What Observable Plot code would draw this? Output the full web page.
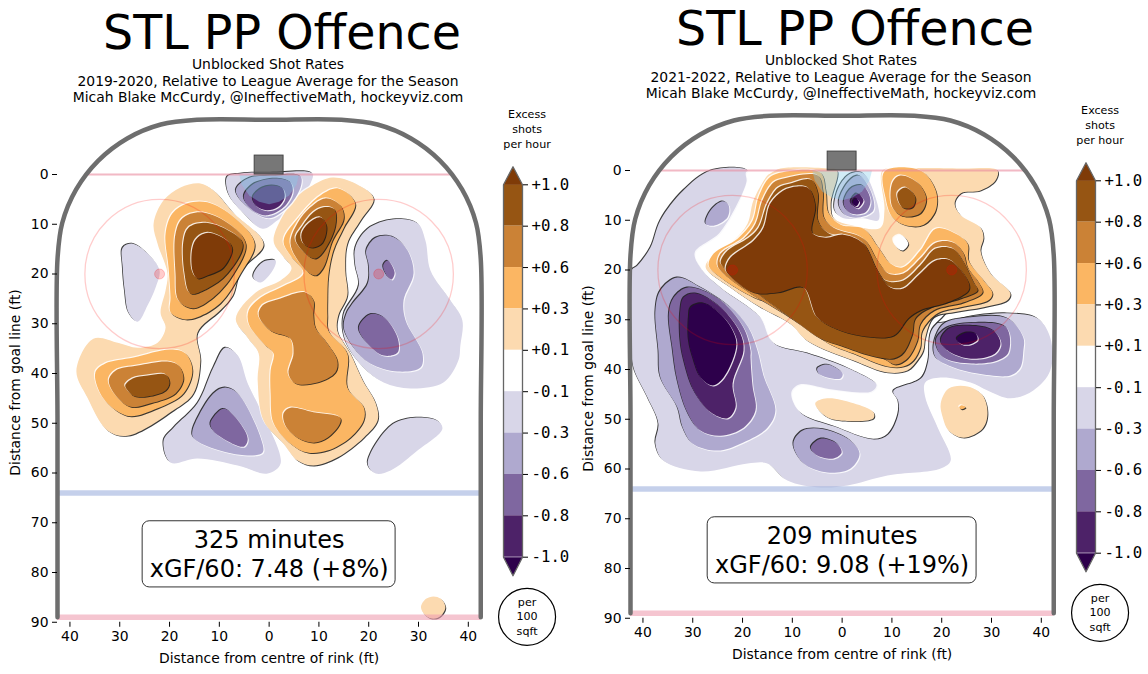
<!DOCTYPE html>
<html><head><meta charset="utf-8">
<script src="https://cdn.jsdelivr.net/npm/d3@7"></script>
<script src="https://cdn.jsdelivr.net/npm/@observablehq/plot@0.6"></script>
<style>
html,body{margin:0;padding:0;background:#fff;overflow:hidden}
#root{position:relative;width:1148px;height:674px;overflow:hidden;font-family:"DejaVu Sans",sans-serif;color:#000}
#root>svg,#root>div{position:absolute}
.t{text-align:center;white-space:nowrap;width:574px}
</style></head><body><div id="root"></div>
<script>
// ---------- levels ----------
const bandNames = ["w","n1","n2","n3","n4","n5","p1","p2","p3","p4","p5"];
const bandColors = ["#ffffff","#d8d6e8","#afa9cf","#7f67a0","#4d2268","#2d004b","#fcdab0","#fbb663","#cb8236","#965513","#7f3b08"];
const cbarLabels = ["+1.0","+0.8","+0.6","+0.3","+0.1","-0.1","-0.3","-0.6","-0.8","-1.0"];
const cbarBands = ["p4","p3","p2","p1","w","n1","n2","n3","n4"];
const xTicks = [-40,-30,-20,-10,0,10,20,30,40];
const yTicks = [0,10,20,30,40,50,60,70,80,90];

// ---------- rink (feet) ----------
const boardX = [-42.5,-42.5,-42.5,-41.55,-38.75,-34.3,-28.5,-21.75,-14.5,0,14.5,21.75,28.5,34.3,38.75,41.55,42.5,42.5,42.5];
const boardY = [89,50,17,9.75,3,-2.8,-7.25,-10.05,-11,-11,-11,-10.05,-7.25,-2.8,3,9.75,17,50,89];
const creaseX = [-6,-5.5,-4,-2,0,2,4,5.5,6];
const creaseY = [0,2,4.2,5.5,6,5.5,4.2,2,0];
const circleX = [-22,22];
const circleY = [20,20];

// ---------- 2019-2020 regions, [x ft, y ft, ...] ----------
const a_n1 = [
 [-29.4,14.7,-27.4,13.9,-24.4,15.9,-22,19.3,-22.8,22.7,-24.4,26.3,-26.4,29.6,-28.2,27.8,-29,23.3,-29.4,18.7],
 [-3.1,19.9,-1.1,17.5,1.3,17.3,0.7,19.3,-1.7,21.7,-3.1,20.9],
 [-8.4,0.4,-5.7,-0.2,0.3,-0.4,8.7,-0.2,8.3,1.8,5.7,5.8,1.7,9.2,-1.3,10.9,-5.1,7.8,-8.2,3.8],
 [17.3,14.7,19.8,10.9,25,9,29.8,9.8,31.4,13.3,32.4,19.3,36.4,25.3,38.8,29.3,38.4,34.4,38,37.4,35,41.8,28.4,43,23,41.8,19,38.8,15.3,33.4,14.9,28.3,18,22.3,17.3,18.3],
 [-21.2,53.5,-19.2,50.9,-14.4,46,-11.2,38.8,-8.8,34.8,-6.3,36.4,-4.3,42,-1.7,47.4,2.3,58.1,-0.3,60.1,-6.3,58.5,-14.4,57.1,-19.8,57.9],
 [19.8,58.1,24.4,50.5,29,48.9,33.8,49.5,34.8,51.1,29.8,55.5,24.4,59.5,21.4,60.1]
];
const a_p1 = [
 [-13.8,1.8,-11.2,3.2,-7.1,7.8,-1.1,14,-5.7,19.3,-7.3,24.3,-9.8,27.3,-14.4,31.8,-13.8,37.4,-15.2,44,-19.2,47.4,-28.4,52.5,-32.4,51.5,-36.5,44.8,-38.7,39.4,-35.3,33,-30.4,33.8,-26.4,34.8,-22.4,33.8,-20.8,30.8,-21.8,27.8,-20.8,23.3,-20.4,19.9,-22.4,13.9,-23.2,9.9,-21.2,5.2,-17.8,2.6],
 [12.7,0.6,17.3,1.8,21,4.8,18.4,9.2,15.7,13.9,15.3,19.3,15.7,24.3,13.9,28.3,13.7,31.4,16.3,36,18.8,41.4,21.4,46,21.8,49.4,19,52.9,13.7,56.9,8.9,58.5,5.7,57.5,2.9,54.1,-1.1,49.5,-2.3,41.4,-2.1,36,-4.3,32.8,-6.7,29,-2.7,23.7,2.3,21.3,4.5,18.9,2.7,16.3,0.9,13.3,4.9,5.2,8.7,2.2],
 [30.5,87,31.5,85.3,33,84.8,34.5,85.3,35.4,87,34.5,88.7,33,89.3,31.5,88.7]
];
const a_n2 = [
 [-6.7,3.2,-4.3,0.8,1.3,0.2,6.3,0.4,6.3,2.6,3.7,6.6,-0.1,8.8,-4.3,6.6],
 [19.5,15.3,21.4,12.7,24.8,12.5,27.8,15.3,29,19.9,27,25.3,27.4,29.3,30.8,36,30.4,38.8,25.8,39.6,20.3,38,17,34.8,15,30.8,15.5,28,16.7,26,19.8,21.9,20,18.3],
 [-15.4,51.5,-11.2,44,-8.8,42.8,-6.3,44,-1.7,52.9,-1.3,55.9,-4.3,56.5,-11.2,55.1,-15.2,52.9]
];
const a_p2 = [
 [-12.4,5.6,-7.1,8.6,-2.9,13.9,-5.7,19.9,-9.8,25.9,-14.4,28.7,-17.2,29.1,-19.8,27.7,-19.8,24.7,-20.2,18.7,-20.8,11.9,-19.4,7.8,-16.4,5.8],
 [-34.9,39.8,-32.9,38,-27.2,36.8,-19.8,35.2,-16.8,36,-15.4,39.4,-17.2,44,-22.4,47,-27.8,48.6,-30.8,47.4,-33.9,44],
 [13.9,2.8,17.3,5.8,15,10.7,12.9,15.3,11.9,20.3,11.7,25.3,11.7,28.3,11.9,31.4,15.7,36,15.7,42.8,19,46.8,19,49.4,16.3,52.9,11.7,55.5,7.7,55.9,4.3,54.1,0.9,50,0.3,44,0.3,39.4,0.9,36,-1.1,34,-4.1,30,-4.1,27.3,-1.7,24.7,2.3,22.7,6.9,19.9,4.3,16.3,2.9,13.3,6.3,8.2,10.3,4.2]
];
const a_n3 = [
 [-5.1,4.6,-3.3,2,1.3,0.8,4.3,1.6,4.7,3.6,2.9,6.6,-0.3,8.2,-2.7,7.6],
 [22.9,18.3,23.8,17.3,25.2,19.7,24.6,21.1,23.4,19.9],
 [18,30.8,20.3,28.1,23,28.7,25.8,32.8,25.8,35.8,23,36.4,19.8,34],
 [-11.8,50,-9.2,47.1,-6.7,48.9,-4.3,53.1,-5.1,54.7,-9.2,53.1,-11.2,51.5]
];
const a_p3 = [
 [-13.8,7.6,-8.4,9.7,-4.7,13.9,-7.1,19.9,-11.2,24.7,-15.4,26.9,-18.2,25.3,-18.8,19.9,-18.8,11.9,-17.4,8.8],
 [-32.2,41.4,-30.8,39.4,-26.4,38.4,-20.4,37.6,-18.2,38.4,-17.2,41,-18.8,44,-23.8,46,-27.8,46.7,-30.8,44.4],
 [11.3,4.8,14.3,6.2,15,8.8,12.7,13.3,10.9,18.7,9.3,20.3,6.9,18.7,4.3,13.9,5.7,9.8,8.3,6.6],
 [7.3,23.7,8.9,25.3,8.9,28.3,9.3,30.8,11.7,34,13.7,37.4,13.3,39.8,9.7,41.8,5.3,42,3.9,40,4.9,36,4.3,33,0.3,31.4,-2.1,28.3,-1.3,26.3,2.3,24.9],
 [2.9,48,4.3,46.9,8.9,47.8,14.3,48.9,14.1,50.3,11.7,52.9,8.9,53.9,5.7,52.9,3.3,50.5]
];
const a_n4 = [[-3.3,4.6,-1.7,2.8,0.7,2.2,2.7,2.8,3.1,4.6,1.7,6.6,-0.5,7.2,-2.5,6.4]];
const a_p4 = [
 [-13.2,9.7,-8.8,10.9,-5.3,13.9,-8.4,19.9,-12.4,22.9,-15.8,23.9,-17,19.9,-17.2,13.3,-16.2,10.7],
 [-28.9,42.4,-27.4,41,-24.4,40.4,-20.8,40.2,-20,41.8,-20.8,43.4,-24.4,44.6,-27.2,44.5,-28.4,43.4],
 [10.9,6.6,13.1,7,13.3,10.3,11.3,14.9,9.3,16.9,7.3,15.9,5.3,12.9,6.7,10.3,8.9,7.6]
];
const a_p5 = [
 [-12.2,11.7,-8.4,13.3,-7.4,14.9,-9.2,18.7,-12.4,20.3,-14.4,20.9,-15.4,19.3,-15.4,14.7,-14.4,12.7],
 [10.3,8.6,11.5,10.3,10.7,13.7,8.7,14.7,6.9,13.9,6.5,11.9,7.9,9.8]
];

// ---------- 2021-2022 regions ----------
const b_n1 = [[-26.4,0,-19,0,-19,2,-20.4,6,-21.4,10.7,-8.4,18.1,7.7,26.1,17.7,30.6,27.2,29.1,33.2,28.7,39.2,29.7,41.8,33.6,41.8,40.2,38.4,44.2,33.8,45.8,29.2,44.2,25.8,42.6,19.8,41.6,16.7,42.6,16.7,45.6,19.2,51.7,21.8,58.3,19.8,59.9,9.1,61.3,1.1,63.3,-4.3,63.7,-11,62.3,-15,58.9,-19,58.9,-28.4,60.5,-35.9,58.3,-37.5,54.9,-36.9,50.9,-39.1,45.6,-41.9,39.6,-42.3,34.2,-42.3,20.1,-41.1,19.1,-38.5,15.5,-36.5,10,-31.9,4]];
const b_w1 = [[-29.4,16.7,-28,20.1,-24.4,23.5,-16.4,29.5,-13.8,34.6,-7,36.6,1.1,39.6,7.1,43.2,6.1,44.6,-1.7,44.2,-8.4,43.2,-10,44.8,-8.4,48.6,-1.7,51.3,6.3,53.9,9.1,52.9,11.1,48.8,11.1,46.2,10.1,44.2,15.7,41.6,17.1,38.2,17.7,32.2,20.7,28.7,23.8,24.1,7.7,6,-8.4,0.4,-19,0.4,-19,2.4,-20.4,6,-24.4,12.7]];
const b_n1top = [[-1.5,8,-0.7,3.4,1.7,0.6,4.3,0.6,6.7,5.4,7.3,10,4.3,9.6,0.3,9.6]];
const b_p1 = [
 [-14.4,0.6,-12.4,-0.4,-3,-0.4,-1,0,-2.3,6.6,-1.7,9.6,2.3,11.1,7.7,11.5,8.5,8,8.1,0,11.7,-0.4,23.8,-0.4,31.2,0,30.8,2,27.8,4,23.8,4.6,22.6,6.6,23.8,9,27.8,11.5,28.4,13.5,27.8,16.1,29.8,20.7,33.8,24.7,33.2,26.1,28.4,27.5,22.4,28.5,18.4,29.5,16.7,33.6,16.3,36.2,15.1,38.2,13.1,40.2,9.1,40.6,2.3,38.2,-7,34.2,-10.4,30.8,-16.4,27.5,-22.4,23.5,-27.4,19.5,-26.4,17.5,-21.8,14.1,-19,10.7,-17.8,6,-15,1],
 [-5.4,46.8,-3,45.8,2.3,46.8,6.3,48.6,6.3,49.8,2.3,50.4,-3,49.6],
 [19.8,46.8,21.4,43.8,25.2,43.4,28.2,45.2,29.2,48.8,28.2,51.9,24.4,53.7,21.4,52.3,20.2,49.6]
];
const b_w2 = [[10.3,13.7,11.7,12.9,13.3,14.7,12.1,16.1,10.7,15.1]];
const b_n2 = [
 [-0.7,6.6,1.1,2.4,3.3,1,5.7,4,6.3,8,3.7,9.4,0.7,9],
 [-37.5,28.1,-36.5,24.1,-33.1,21.5,-28.4,23.5,-22.4,27.5,-18.8,31.6,-17,36.2,-15.8,41.2,-13.4,48.2,-15,51.7,-20.4,54.9,-25,56.3,-30,54.9,-32,51.7,-33.1,47.6,-36.5,41.6,-36.9,36.2],
 [-27.4,10.7,-26.4,8,-24,6.2,-22.8,7,-23,9.4,-25.8,11.1],
 [18.4,34.8,20.4,30.8,25.8,29.5,33.2,29.7,36.4,33.6,36.4,36.2,35.8,39.6,33.8,41.2,27.2,40.8,22.4,39.6,18.8,37.6],
 [-5,39.8,-3,39,0.1,40.8,-0.3,41.8,-3,41.6,-4.7,40.8],
 [-9.8,54.9,-8,52.3,-3.7,52,1.7,54.3,3.5,56.9,1.7,59.9,-3,60.7,-7.7,58.9]
];
const b_p2 = [
 [-13,0.6,-4.4,0.4,-3.3,4,-2.7,8.6,-0.3,10.9,4.3,11.7,7.3,15.5,9.7,18.7,12.1,19.5,15.7,16.1,18.8,11.7,22.4,12.5,25.2,14.7,25.4,18.1,28.4,22.1,30.2,24.7,29.4,26.1,23.8,27.5,19.2,28.7,16.1,32.2,15.7,35.6,14.3,38.2,12.3,39.4,9.1,39.4,2.3,36.8,-3,34.6,-12.4,27.5,-17.8,25.5,-24.4,21.5,-26.8,19.1,-25.8,16.7,-21,13.7,-18,10.1,-16.8,5.4,-14.8,1.6],
 [8.5,0.2,15.7,0,18.8,4,18.8,8,16.4,10.9,13.1,11.1,10.1,9.4,8.7,5.4],
 [23.5,47.6,24,47.2,24.8,47.6,24,48]
];
const b_n3 = [
 [0.3,6.6,1.7,3.6,4.1,3,5.7,6,4.7,8.4,1.7,8.6],
 [-34.8,28.7,-33.8,25.5,-31,23.5,-25,25.7,-19.8,31.6,-18.4,36.2,-18.4,37.6,-18,43.2,-17.4,48.2,-19.8,51.7,-24.4,53.3,-28.4,52.3,-31,48.8,-33.1,42.2,-34.1,35.6],
 [18.8,34.2,21,31.6,27,30.6,33,31.6,33.4,36.6,31.2,38.2,26,38.8,20.4,37.6],
 [-6.3,55.7,-4.3,53.9,-1,54.9,-0.1,56.7,-1.7,57.9,-5,57.3]
];
const b_p3 = [
 [-11.8,1.6,-4.9,1,-3.9,4,-3.7,9.4,-1.7,11.5,4.3,13.7,7.1,18.1,9.3,20.7,12.3,20.7,15.7,17.7,18.8,14.5,22.4,14.5,24.4,16.7,25.2,19.5,27.4,22.5,28.2,24.5,24.4,26.5,18.4,28.1,15.7,30.8,15.1,34.2,13.1,37.8,10.7,39,8.3,37.8,2.3,35.8,-2.3,34.2,-9.4,30.2,-13.8,27.5,-18.4,24.7,-23.8,20.7,-25,19.1,-24.4,16.7,-19.8,13.7,-17.4,10.7,-16,6,-13.8,2.4],
 [10.1,2.4,11.7,1,15.1,2.4,16.9,5.6,15.7,8.6,12.3,9.2,10.1,7.4]
];
const b_n4 = [
 [1.7,6.4,2.9,4.6,4.3,6,3.1,7.6],
 [-32.5,28.1,-31.8,25.5,-29.4,24.7,-24.4,27.5,-20.4,32.8,-19.8,36.2,-22,42.8,-21.4,47.6,-23,49.8,-26.4,48.6,-29.8,44.2,-31.8,38.2,-32.5,34.2],
 [19.8,34.2,21.4,31.8,25.8,31.2,30.4,32.2,31.8,34.8,30.4,37,25.4,37.8,21.2,36.2]
];
const b_p4 = [
 [-10.4,2.6,-6.3,1.8,-4.9,4.4,-4.9,10,-2.9,12.5,4.1,14.5,6.3,18.7,8.7,22.1,12.3,22.1,15.7,19.1,18.8,15.7,22.2,15.7,24.2,18.1,26.4,22.5,27.2,24.1,23.8,25.7,17.8,27.5,14.7,29.7,14.1,32.8,12.3,36.6,10.3,37.8,5.7,37.2,-0.3,35.2,-4.3,33.8,-8.4,31,-12.4,28.1,-17.8,24.1,-23,20.1,-24.4,18.5,-23,16.1,-18.8,13.5,-16.8,11.5,-15,6.6,-12.8,3.4],
 [11.1,4.6,12.7,3.4,14.7,5.4,14.1,7.4,12.1,7.4]
];
const b_n5 = [
 [2.1,6.4,2.7,5.6,3.4,6.3,2.8,7.2],
 [-30.8,29.5,-30.4,27.5,-27.8,26.7,-23.8,29.5,-21.4,33.6,-21.4,36.2,-23.8,41.6,-26,43.2,-28.4,41.6,-30,37.6,-30.8,34.2],
 [23,33.8,24.8,32.6,26.8,32.8,27.2,34,25.4,35,23.8,34.8]
];
const b_p5 = [[-9,3.2,-6.7,3.6,-5.4,7,-6,12.5,-3.3,13.5,0.3,12.9,4.3,14.7,7.1,20.1,9.7,23.5,12.3,23.7,15.7,20.7,18.8,18.1,21.8,18.1,25.4,22.5,25.4,24.1,21.2,26.5,15.7,28.1,13.3,29.7,10.3,33.2,3.7,33.2,-1.3,31.8,-5,29.5,-7.8,23.5,-13,24.5,-17.8,24.5,-23,20.7,-23.4,19.7,-22.4,17.5,-17.8,14.1,-15.8,11.5,-14.4,6.6,-11.8,4]];

const layersA = [["n1",a_n1],["p1",a_p1],["n2",a_n2],["p2",a_p2],["n3",a_n3],["p3",a_p3],["n4",a_n4],["p4",a_p4],["p5",a_p5]];
const layersB = [["n1",b_n1],["w",b_w1],["n1",b_n1top],["p1",b_p1],["w",b_w2],["n2",b_n2],["p2",b_p2],["n3",b_n3],["p3",b_p3],["n4",b_n4],["p4",b_p4],["n5",b_n5],["p5",b_p5]];

const FONT = "DejaVu Sans";
const darkEdge = 0.85, lightEdge = 1;
function rows(band, polys){
  const out = [];
  polys.forEach((p,id)=>{ for(let i=0;i<p.length;i+=2) out.push({x:p[i],y:p[i+1],id,band}); });
  return out;
}
function panel(layers, boxLines, boxHalf){
  const marks = [];
  for(const [band,polys] of layers){
    const data = rows(band,polys);
    const s = band[0]==="n" ? -1 : 1;
    const base = {x:"x",y:"y",z:"id",curve:"catmull-rom-closed",stroke:"none"};
    marks.push(Plot.line(data,{...base,fill:"#1a1a1a",fillOpacity:0.85,dx:s*darkEdge,dy:s*darkEdge}));
    marks.push(Plot.line(data,{...base,fill:"#ffffff",fillOpacity:0.85,dx:-s*lightEdge,dy:-s*lightEdge}));
    marks.push(Plot.line(data,{...base,fill:"band"}));
  }
  const crease = creaseX.map((x,i)=>({x,y:creaseY[i]}));
  marks.push(Plot.line(crease,{x:"x",y:"y",curve:"linear-closed",stroke:"none",fill:"#87ceeb",fillOpacity:0.38}));
  marks.push(Plot.ruleY([0],{x1:-36.6,x2:36.6,stroke:"#e98a9e",strokeOpacity:0.6,strokeWidth:2}));
  marks.push(Plot.ruleY([64],{x1:-42.5,x2:42.5,stroke:"#9fb1dd",strokeOpacity:0.6,strokeWidth:5.5}));
  marks.push(Plot.ruleY([89],{x1:-42.5,x2:42.5,stroke:"#ee9fb0",strokeOpacity:0.6,strokeWidth:5.5}));
  const spots = circleX.map((x,i)=>({x,y:circleY[i]}));
  marks.push(Plot.dot(spots,{x:"x",y:"y",r:74.7,stroke:"#ff0000",strokeOpacity:0.2,strokeWidth:1.3,fill:"none"}));
  marks.push(Plot.dot(spots,{x:"x",y:"y",r:5,stroke:"#ff0000",strokeOpacity:0.2,strokeWidth:1,fill:"#ff0000",fillOpacity:0.2}));
  marks.push(Plot.rect([0],{x1:-2.9,x2:2.9,y1:-3.8,y2:0,fill:"#555555",fillOpacity:0.8,stroke:"#444444",strokeWidth:1}));
  marks.push(Plot.line(boardX.map((x,i)=>({x,y:boardY[i]})),{x:"x",y:"y",curve:"catmull-rom",stroke:"#6e6e6e",strokeWidth:4.5}));
  marks.push(Plot.rect([0],{x1:-boxHalf,x2:boxHalf,y1:69.7,y2:83,rx:7,fill:"#ffffff",stroke:"#333333",strokeWidth:1}));
  marks.push(Plot.text([boxLines[0]],{x:0,y:73.6,text:d=>d,fontSize:24,fontFamily:FONT,fill:"#000"}));
  marks.push(Plot.text([boxLines[1]],{x:0,y:79.3,text:d=>d,fontSize:24,fontFamily:FONT,fill:"#000"}));
  marks.push(Plot.axisX({ticks:xTicks,tickFormat:d=>Math.abs(d),tickSize:5,tickPadding:4,label:null,anchor:"bottom",fontSize:13.9,fontFamily:FONT}));
  marks.push(Plot.axisY({ticks:yTicks,tickFormat:d=>String(d),tickSize:5,tickPadding:4,label:null,anchor:"left",fontSize:13.9,fontFamily:FONT}));
  marks.push(Plot.text(["Distance from centre of rink (ft)"],{x:0,y:90,dy:36.5,text:d=>d,fontSize:13.9,fontFamily:FONT,fill:"#000"}));
  marks.push(Plot.text(["Distance from goal line (ft)"],{x:-42.5,y:41.8,dx:-41.5,rotate:-90,text:d=>d,fontSize:13.9,fontFamily:FONT,fill:"#000"}));
  return Plot.plot({
    width:574,height:674,marginLeft:57,marginRight:93.75,marginTop:114.3,marginBottom:52.25,
    x:{domain:[-42.5,42.5],axis:null},y:{domain:[-12,90],reverse:true,axis:null},
    color:{type:"ordinal",domain:bandNames,range:bandColors},
    style:{background:"transparent",overflow:"visible",fontFamily:FONT,color:"#000"},
    marks
  });
}
function colorbar(){
  const idx = cbarBands.map((b,i)=>({b,i}));
  const outline = [[0,0],[0.5,-0.437],[1,0],[1,9],[0.5,9.45],[0,9]].map(([x,y])=>({x,y}));
  const capTop = [[0,0],[0.5,-0.437],[1,0]].map(([x,y])=>({x,y}));
  const capBot = [[0,9],[0.5,9.45],[1,9]].map(([x,y])=>({x,y}));
  const head = ["Excess","shots","per hour"], foot = ["per","100","sqft"];
  return Plot.plot({
    width:110,height:674,marginLeft:33,marginRight:58,marginTop:184.3,marginBottom:117.3,
    x:{domain:[0,1],axis:null},y:{domain:[0,9],reverse:true,axis:null},
    color:{type:"ordinal",domain:bandNames,range:bandColors},
    style:{background:"transparent",overflow:"visible",fontFamily:FONT,color:"#000"},
    marks:[
      Plot.rect(idx,{x1:0,x2:1,y1:"i",y2:d=>d.i+1,fill:"b"}),
      Plot.line(capTop,{x:"x",y:"y",curve:"linear-closed",stroke:"none",fill:"#7f3b08"}),
      Plot.line(capBot,{x:"x",y:"y",curve:"linear-closed",stroke:"none",fill:"#2d004b"}),
      Plot.line(outline,{x:"x",y:"y",curve:"linear-closed",stroke:"#666666",strokeWidth:1.3,fill:"none"}),
      Plot.axisY({anchor:"right",ticks:d3.range(cbarLabels.length),tickFormat:i=>cbarLabels[i],tickSize:5,tickPadding:4,label:null,fontSize:15.7,fontFamily:"DejaVu Sans Mono",textAnchor:"start"}),
      Plot.text(head,{x:1.24,y:(d,i)=>-1.7+i*0.36,text:d=>d,fontSize:11.1,fontFamily:FONT,fill:"#000"}),
      Plot.dot([0],{x:1.24,y:10.44,r:28.5,stroke:"#000",strokeWidth:1.2,fill:"#fff"}),
      Plot.text(foot,{x:1.24,y:(d,i)=>10.09+i*0.35,text:d=>d,fontSize:11.1,fontFamily:FONT,fill:"#000"})
    ]
  });
}
const root = document.getElementById("root");
function place(el,left,top){ el.style.left=left+"px"; el.style.top=top+"px"; root.appendChild(el); }
function label(text,cx,cy,size){
  const d=document.createElement("div"); d.className="t"; d.textContent=text;
  d.style.fontSize=size+"px"; d.style.lineHeight=size+"px";
  place(d,cx-287,cy-size/2);
}
const figures = [
 {dx:0,dy:0,layers:layersA,season:"2019-2020, Relative to League Average for the Season",box:["325 minutes","xGF/60: 7.48 (+8%)"],half:25.4},
 {dx:573,dy:-4,layers:layersB,season:"2021-2022, Relative to League Average for the Season",box:["209 minutes","xGF/60: 9.08 (+19%)"],half:27}
];
for(const f of figures){
  place(panel(f.layers,f.box,f.half),f.dx,f.dy);
  place(colorbar(),470+f.dx,f.dy);
  label("STL PP Offence",282+f.dx,33+f.dy,47.5);
  label("Unblocked Shot Rates",268+f.dx,65+f.dy,13.9);
  label(f.season,268+f.dx,82+f.dy,13.9);
  label("Micah Blake McCurdy, @IneffectiveMath, hockeyviz.com",268+f.dx,98+f.dy,13.9);
}
</script></body></html>
